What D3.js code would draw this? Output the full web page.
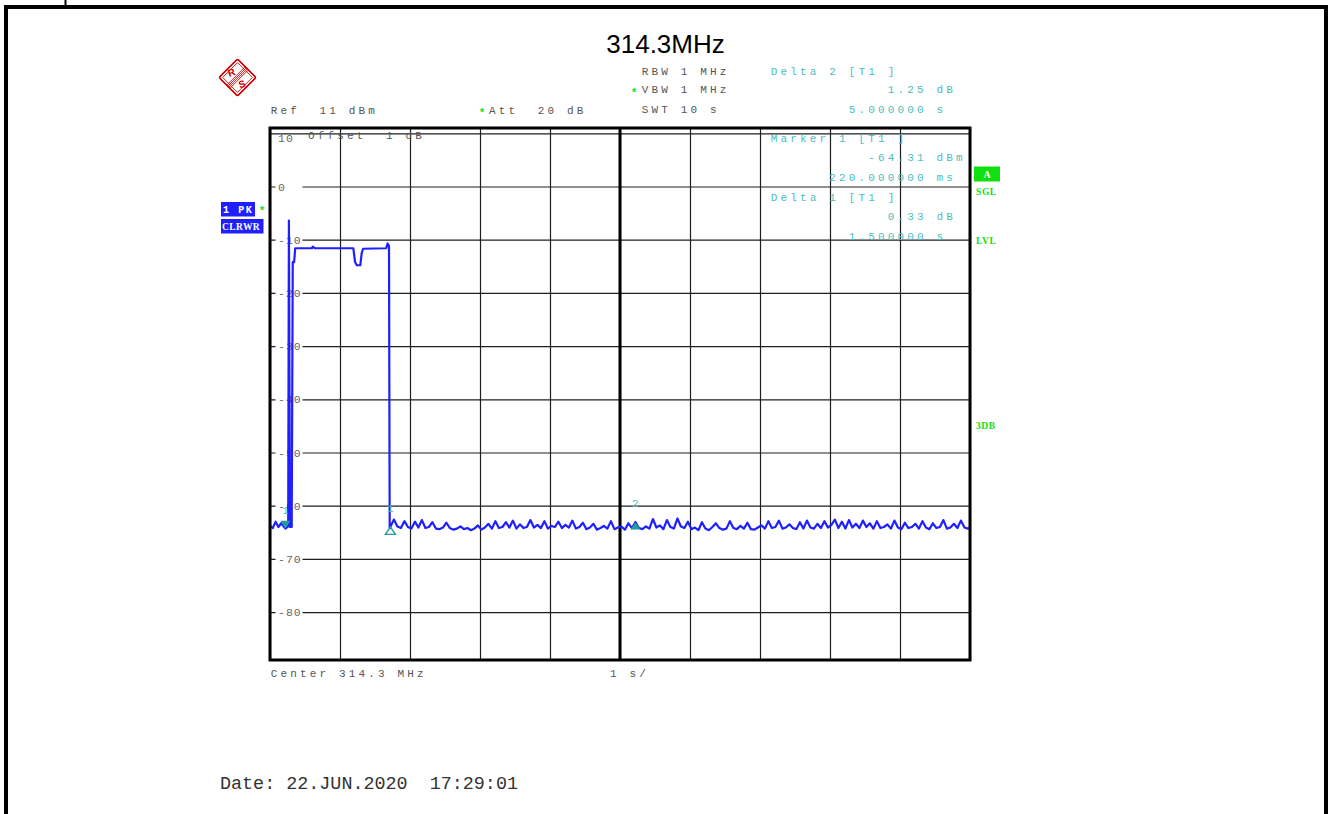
<!DOCTYPE html>
<html>
<head>
<meta charset="utf-8">
<script src="https://cdn.jsdelivr.net/npm/d3@7"></script>
<style>
  html, body { margin: 0; padding: 0; background: #fff; }
  svg { display: block; }
</style>
</head>
<body>
<svg id="chart" width="1333" height="814"></svg>
<script>
// ---- Instrument settings ----
const titleText = "314.3MHz";
const refLevel = 11;           // dBm, top of screen
const levelRange = 100;        // dB shown (10 dB/div)
const sweepTime = 10;          // s
const timeDivs = [0, 1, 2, 3, 4, 5, 6, 7, 8, 9, 10];
const levelTicks = [10, 0, -10, -20, -30, -40, -50, -60, -70, -80];
const levelLabels = ["10", "0", "-10", "-20", "-30", "-40", "-50", "-60", "-70", "-80"];

// ---- Trace: burst section (time s, level dBm) ----
const burstTimes = [0, 0.04, 0.08, 0.12, 0.16, 0.22, 0.26, 0.27, 0.285, 0.31, 0.325, 0.345, 0.36,
  0.60, 0.61, 0.64, 1.19, 1.215, 1.24, 1.29, 1.31, 1.33, 1.66, 1.68, 1.70, 1.71];
const burstLevels = [-63.8, -64.2, -63.0, -64.0, -63.3, -64.31, -63.9, -6.4, -64.0, -64.0, -14.2, -14.2, -11.6,
  -11.6, -11.3, -11.6, -11.6, -14.2, -14.8, -14.8, -12.5, -11.7, -11.6, -10.7, -11.2, -64.2];

// ---- Trace: noise floor after the burst, one reading every 50 ms from 1.72 s ----
const noiseStart = 1.72;
const noiseStep = 0.05;
const noiseLevels = [
  -63.98,
  -62.6, -63.9, -64.2, -62.9, -64.0, -64.3, -63.0, -64.1, -62.7, -64.2,
  -64.0, -63.1, -64.3, -64.4, -64.1, -63.2, -64.2, -64.5, -64.3, -63.9,
  -64.4, -64.2, -64.6, -64.3, -63.7, -64.5, -64.1, -63.4, -64.3, -62.9,
  -64.2, -64.0, -63.1, -64.1, -62.8, -64.3, -63.5, -64.2, -64.0, -62.7,
  -64.1, -63.6, -64.2, -62.9, -64.3, -63.8, -64.0, -63.0, -64.2, -63.6,
  -64.1, -62.8, -64.3, -64.0, -63.2, -64.4, -64.1, -63.4, -64.5, -64.2,
  -63.8, -64.3, -62.9, -64.4, -64.1, -63.9, -64.5, -63.3, -64.2,
  -63.06,
  -64.2, -64.4, -63.9, -64.3, -62.5, -64.1, -63.7, -64.4, -62.7, -64.0,
  -64.3, -62.4, -63.9, -64.2, -63.0, -64.4, -64.1, -64.6, -63.1, -64.3,
  -64.6, -64.0, -63.3, -64.2, -64.5, -64.3, -62.9, -64.2, -64.4, -63.8,
  -64.3, -63.2, -64.4, -64.5, -64.1, -63.7, -64.3, -62.9, -64.2, -64.0,
  -62.8, -64.3, -64.1, -63.5, -64.2, -64.4, -63.1, -64.3, -62.8, -64.1,
  -64.3, -63.4, -64.2, -62.9, -64.1, -63.6, -62.6, -64.2, -63.0, -64.3,
  -62.7, -64.1, -63.4, -64.2, -62.8, -64.0, -63.3, -64.3, -62.9, -64.2,
  -64.0, -63.5, -64.3, -62.8, -64.1, -64.4, -63.2, -64.2, -64.0, -63.4,
  -64.3, -62.9, -64.1, -64.4, -63.3, -64.2, -64.0, -62.7, -64.3, -64.1,
  -63.4, -64.2, -62.8, -64.1, -64.3, -63.9
];

// ---- Markers ----
const marker1Time = 0.22;       // s
const marker1Level = -64.31;    // dBm
const deltaNames = ["1", "2"];
const deltaTimes = [1.5, 5.0];  // s, relative to marker 1
const deltaLevels = [0.33, 1.25]; // dB, relative to marker 1

// ---- Colours ----
const traceBlue = "#1f1fff";
const markTeal = "#4dbdbd";
const markTealDark = "#1f9c9c";
const setGray = "#555";
const statusGreen = "#10e010";

const svg = d3.select("#chart");
const mono = "'Liberation Mono', 'DejaVu Sans Mono', monospace";

const x = d3.scaleLinear().domain([0, sweepTime]).range([270, 970]);
const y = d3.scaleLinear().domain([refLevel - levelRange, refLevel]).range([660, 128]);
const [px0, px1] = x.range();
const [py1, py0] = y.range();

// Page frame
svg.append("path").attr("d", "M6,830V7H1326V830")
  .attr("fill", "none").attr("stroke", "#000").attr("stroke-width", 4);
svg.append("line").attr("x1", 65.5).attr("x2", 65.5).attr("y1", 0).attr("y2", 6)
  .attr("stroke", "#000").attr("stroke-width", 2);

// Title
svg.append("text").attr("x", 665.5).attr("y", 53).attr("text-anchor", "middle")
  .attr("font-family", "'Liberation Sans', Arial, sans-serif").attr("font-size", 26)
  .attr("fill", "#000").text(titleText);

// Maker logo
const logo = svg.append("g").attr("transform", "translate(237.5,77.5)");
const logoRot = logo.append("g").attr("transform", "rotate(45)");
logoRot.append("rect").attr("x", -13).attr("y", -13).attr("width", 26).attr("height", 26)
  .attr("rx", 1.5).attr("fill", "none").attr("stroke", "#c80000").attr("stroke-width", 1.6);
logoRot.append("rect").attr("x", -10.5).attr("y", -10.5).attr("width", 21).attr("height", 21)
  .attr("fill", "none").attr("stroke", "#c80000").attr("stroke-width", 0.8);
[-2.2, -0.7, 0.8, 2.3].forEach(d => {
  logoRot.append("line").attr("x1", d).attr("x2", d).attr("y1", -12.5).attr("y2", 12.5)
    .attr("stroke", "#c80000").attr("stroke-width", 0.8);
});
logo.append("text").attr("x", -6).attr("y", -1.5).attr("text-anchor", "middle")
  .attr("font-family", "'Liberation Sans', sans-serif").attr("font-weight", "bold")
  .attr("font-size", 10).attr("fill", "#c80000").attr("transform", "rotate(-20,-6,-5)").text("R");
logo.append("text").attr("x", 4.5).attr("y", 10).attr("text-anchor", "middle")
  .attr("font-family", "'Liberation Sans', sans-serif").attr("font-weight", "bold")
  .attr("font-size", 10).attr("fill", "#c80000").attr("transform", "rotate(-20,4.5,6.5)").text("S");

// Monospace text helper (9.75 px character pitch)
function monoText(parent, str, tx, ty, color, opts = {}) {
  return parent.append("text")
    .attr("x", tx).attr("y", ty).attr("dy", "0.35em")
    .attr("xml:space", "preserve").style("white-space", "pre")
    .attr("font-family", mono).attr("font-size", opts.size || 11)
    .attr("letter-spacing", opts.spacing !== undefined ? opts.spacing : 3.15)
    .attr("font-weight", opts.weight || "normal")
    .attr("fill", color).text(str);
}
function star(tx, ty) {
  svg.append("text").attr("x", tx).attr("y", ty).attr("dy", "0.35em").attr("text-anchor", "middle")
    .attr("font-family", mono).attr("font-size", 11).attr("font-weight", "bold")
    .attr("fill", statusGreen).text("*");
}

// Settings block
const settings = svg.append("g");
monoText(settings, "RBW 1 MHz", 641.7, 70.7, setGray);
monoText(settings, "VBW 1 MHz", 641.7, 89.3, setGray);
monoText(settings, "SWT 10 s", 641.7, 109.3, setGray);
monoText(settings, "Ref  " + refLevel + " dBm", 270.7, 110, setGray);
monoText(settings, "Att  20 dB", 489, 110, setGray);
star(634, 92);
star(482, 112);

// Grid
const grid = svg.append("g");
grid.append("g").attr("transform", `translate(0,${py1})`)
  .call(d3.axisBottom(x).tickValues(timeDivs).tickSize(-(py1 - py0)).tickFormat(""))
  .call(g => g.select(".domain").remove())
  .call(g => g.selectAll("line").attr("stroke", "#1e1e1e").attr("stroke-width", 1.2));
grid.append("g").attr("transform", `translate(${px0},0)`)
  .call(d3.axisLeft(y).tickValues(levelTicks).tickSize(-(px1 - px0)).tickFormat(""))
  .call(g => g.select(".domain").remove())
  .call(g => g.selectAll("line").attr("stroke", "#1e1e1e").attr("stroke-width", 1.2));
grid.append("line").attr("x1", x(sweepTime / 2)).attr("x2", x(sweepTime / 2))
  .attr("y1", py0).attr("y2", py1).attr("stroke", "#000").attr("stroke-width", 3);

// Level labels inside the left edge
levelTicks.forEach((v, i) => {
  const isTop = i === 0;
  const ly = isTop ? y(v) + 5 : y(v);
  if (!isTop) {
    svg.append("rect").attr("x", 275.5).attr("y", ly - 5).attr("width", 27).attr("height", 10)
      .attr("fill", "#fff");
  }
  monoText(svg, levelLabels[i], 278, ly, "#666", { size: 11.5, spacing: 1.0 });
});

// Offset note along the top line
monoText(svg, "Offset  1 dB", 308, 135.5, setGray);

// Marker readout block
const readouts = [];
function levelLine(val, unit) {
  return (val.toFixed(2) + " " + unit.padEnd(3)).padStart(20);
}
function timeLine(val, unit) {
  return (val.toFixed(6) + " " + unit.padEnd(3)).padStart(20);
}
readouts.push(["Delta " + deltaNames[1] + " [T1 ]", 70.7]);
readouts.push([levelLine(deltaLevels[1], "dB"), 89.3]);
readouts.push([timeLine(deltaTimes[1], "s"), 109.3]);
readouts.push(["Marker 1 [T1 ]", 137.7]);
readouts.push([levelLine(marker1Level, "dBm"), 156.7]);
readouts.push([timeLine(marker1Time * 1000, "ms"), 176.7]);
readouts.push(["Delta " + deltaNames[0] + " [T1 ]", 196.7]);
readouts.push([levelLine(deltaLevels[0], "dB"), 216]);
readouts.push([timeLine(deltaTimes[0], "s"), 236]);
const readG = svg.append("g");
readouts.forEach(([s, ly]) => monoText(readG, s, 770.7, ly, markTeal));

// Trace
svg.append("clipPath").attr("id", "plotClip").append("rect")
  .attr("x", px0).attr("y", py0).attr("width", px1 - px0).attr("height", py1 - py0);
const tracePts = burstTimes.map((t, i) => [t, burstLevels[i]])
  .concat(noiseLevels.map((v, i) => [noiseStart + i * noiseStep, v]));
const line = d3.line().x(d => x(d[0])).y(d => y(d[1]));
svg.append("path").datum(tracePts)
  .attr("clip-path", "url(#plotClip)")
  .attr("d", line).attr("fill", "none")
  .attr("stroke", traceBlue).attr("stroke-width", 2.2).attr("stroke-linejoin", "round");

// Marker symbols
const mk = svg.append("g");
{
  const mx = x(marker1Time), my = y(marker1Level);
  mk.append("path").attr("d", `M${mx - 5},${my - 8}L${mx + 5},${my - 8}L${mx},${my}Z`)
    .attr("fill", markTealDark);
  mk.append("text").attr("x", mx).attr("y", my - 18).attr("dy", "0.35em").attr("text-anchor", "middle")
    .attr("font-family", mono).attr("font-size", 10).attr("fill", markTeal).text("1");
}
deltaTimes.forEach((dt, i) => {
  const mx = x(marker1Time + dt), my = y(marker1Level + deltaLevels[i]);
  const p = mk.append("path").attr("d", `M${mx},${my}L${mx + 5},${my + 7.5}L${mx - 5},${my + 7.5}Z`);
  if (i === 0) p.attr("fill", "none").attr("stroke", markTealDark).attr("stroke-width", 1.4);
  else p.attr("fill", markTealDark);
  mk.append("text").attr("x", mx).attr("y", my - 19).attr("dy", "0.35em").attr("text-anchor", "middle")
    .attr("font-family", mono).attr("font-size", 11).attr("fill", markTeal).text(deltaNames[i]);
});

// Plot frame
svg.append("rect").attr("x", px0).attr("y", py0).attr("width", px1 - px0).attr("height", py1 - py0)
  .attr("fill", "none").attr("stroke", "#000").attr("stroke-width", 3);

// Trace status boxes on the left
const boxFont = "'Liberation Mono', monospace";
svg.append("rect").attr("x", 221).attr("y", 202).attr("width", 34).attr("height", 14.5).attr("fill", traceBlue);
svg.append("text").attr("x", 223).attr("y", 209.3).attr("dy", "0.35em")
  .attr("xml:space", "preserve").style("white-space", "pre")
  .attr("font-family", boxFont).attr("font-weight", "bold").attr("font-size", 10)
  .attr("letter-spacing", 1.6).attr("fill", "#fff").text("1 PK");
star(262, 210);
svg.append("rect").attr("x", 221).attr("y", 219).attr("width", 42.5).attr("height", 14.5).attr("fill", traceBlue);
svg.append("text").attr("x", 222).attr("y", 226.3).attr("dy", "0.35em")
  .attr("font-family", "'Liberation Serif', serif").attr("font-weight", "bold").attr("font-size", 9.5)
  .attr("letter-spacing", 0.4).attr("fill", "#fff").text("CLRWR");

// Status annotations on the right
svg.append("rect").attr("x", 974).attr("y", 166.5).attr("width", 26).attr("height", 15).attr("fill", statusGreen);
svg.append("text").attr("x", 987).attr("y", 174).attr("dy", "0.35em").attr("text-anchor", "middle")
  .attr("font-family", "'Liberation Serif', serif").attr("font-weight", "bold").attr("font-size", 10)
  .attr("fill", "#fff").text("A");
[["SGL", 191.7], ["LVL", 241], ["3DB", 426]].forEach(([s, ly]) => {
  svg.append("text").attr("x", 976).attr("y", ly).attr("dy", "0.35em")
    .attr("font-family", "'Liberation Serif', serif").attr("font-weight", "bold").attr("font-size", 9.5)
    .attr("letter-spacing", 0.6).attr("fill", statusGreen).text(s);
});

// Bottom annotations
monoText(svg, "Center 314.3 MHz", 270.7, 673.3, setGray);
monoText(svg, "1 s/", 610, 673.3, setGray);
monoText(svg, "Date: 22.JUN.2020  17:29:01", 220, 783, "#333", { size: 18.4, spacing: 0 });
</script>
</body>
</html>
